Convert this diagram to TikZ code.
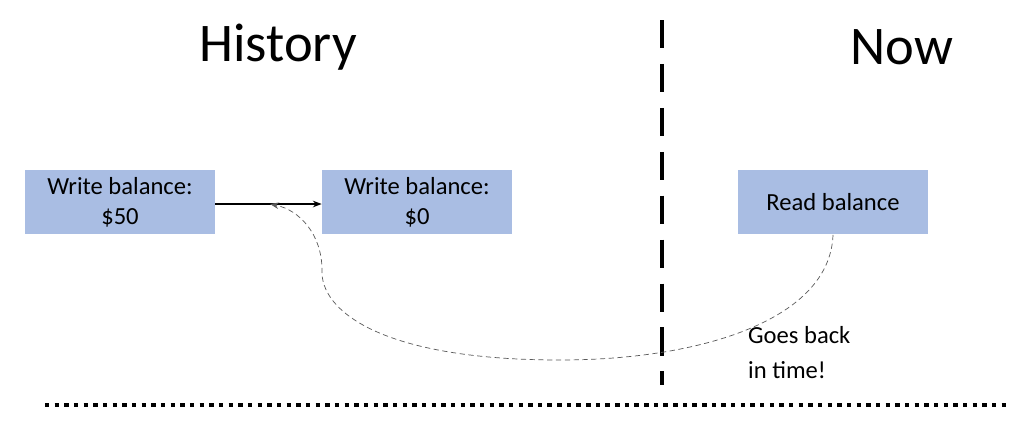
\documentclass[tikz,border=0pt]{standalone}
\usepackage{fontspec}
\setmainfont{Carlito}
\usetikzlibrary{arrows.meta}
\begin{document}
\begin{tikzpicture}[x=0.02cm,y=-0.02cm]

\tikzset{opbox/.style={fill=opblue, minimum height=1.3cm, minimum width=3.8cm, align=center, font=\fontsize{14}{17}\selectfont}}
\tikzset{heading/.style={font=\fontsize{31}{34}\selectfont}}
\definecolor{opblue}{HTML}{A9BDE3}

\useasboundingbox (0,0) rectangle (1010,426);

% titles
\node[heading] at (278, 47) (hist) {History};
\node[heading] at (902, 47) (now) {Now};

% operations
\node[opbox] at (120, 202) (w50) {Write balance:\\\$50};
\node[opbox] at (417, 202) (w0) {Write balance:\\\$0};
\node[opbox] at (833, 202) (rd) {Read balance};
\coordinate (mid) at (270, 204);

% separators
\draw[line width=2.5pt, dash pattern=on 16pt off 9pt] (662, 20) -- (662, 385);
\draw[line width=2.5pt, dash pattern=on 2.5pt off 3pt] (45, 405) -- (1010, 405);

% interactions
\draw[-{Stealth[length=5pt]}, thick] (w50.east |- mid) -- (w0.west |- mid);
\draw[densely dashed, gray!70!black, -{Stealth[length=5pt]}] (rd.south) .. controls (830, 320) and (700, 360) .. (560, 360)
  .. controls (380, 360) and (320, 310) .. (322, 270) .. controls (322, 235) and (300, 210) .. (mid);
\node[align=left, anchor=north west, font=\fontsize{14}{20}\selectfont] at (742, 320) (note) {Goes back\\in time!};

\end{tikzpicture}
\end{document}
